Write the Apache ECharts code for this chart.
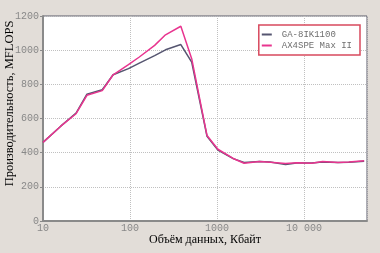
<!DOCTYPE html>
<html><head><meta charset="utf-8">
<script src="https://cdn.jsdelivr.net/npm/echarts@6/dist/echarts.min.js"></script>
<style>html,body{margin:0;padding:0;background:#e2ddd8;}#c{width:380px;height:253px;}</style>
</head><body><div id="c"></div>
<script>
const sizesKB = [10,16,24,32,48,64,96,128,192,256,384,512,768,1024,1536,2048,3072,4096,6144,8192,12288,16384,24576,32768,49152];
const gaValues = [460,555,632,742,768,856,892,924,968,1002,1033,930,496,415,365,342,348,346,330,340,340,346,342,344,350];
const axValues = [460,555,628,736,763,856,915,960,1028,1090,1140,950,500,420,366,338,348,344,336,341,338,348,342,346,353];
const seriesNames = ['GA-8IK1100','AX4SPE Max II'];
const yTicks = [0,200,400,600,800,1000,1200];
const xTickLabels = {10:'10',100:'100',1000:'1000',10000:'10 000'};

const pair = (xs, ys) => xs.map((x,i)=>[x, ys[i]]);
const chart = echarts.init(document.getElementById('c'), null, {renderer:'canvas'});
chart.setOption({
  backgroundColor:'#e2ddd8',
  animation:false,
  grid:{left:43,right:13,top:16,bottom:32,containLabel:false,outerBoundsMode:'none',
    show:true,backgroundColor:'#ffffff',borderColor:'#5a5a6a',borderWidth:1},
  legend:{
    right:20, top:25, orient:'vertical', itemGap:0,
    padding:[4,8,4,3],
    borderColor:'#d84a5e', borderWidth:1.5, backgroundColor:'#ffffff',
    itemWidth:10, itemHeight:2, icon:'rect',
    textStyle:{fontFamily:'Liberation Mono',fontSize:9,lineHeight:11,color:'#6e6e6e',padding:[0,0,0,5]},
    data:seriesNames
  },
  xAxis:{
    type:'log', logBase:10, min:10, max:53000,
    name:'Объём данных, Кбайт', nameLocation:'middle', nameGap:13, nameMoveOverlap:false,
    nameTextStyle:{fontFamily:'Liberation Serif',fontSize:12,color:'#000'},
    axisLine:{show:true,lineStyle:{color:'#8a8a8a',width:2}},
    axisTick:{show:false},
    axisLabel:{fontFamily:'Liberation Mono',fontSize:10,color:'#888888',margin:2,
      formatter:v=>xTickLabels[Math.round(v)]||''},
    splitLine:{show:true,lineStyle:{color:'#c0c0c0',type:[1,1],width:1}},
    minorTick:{show:false}
  },
  yAxis:{
    type:'value', min:0, max:1200, interval:200,
    name:'Производительность, MFLOPS', nameLocation:'middle', nameGap:27, nameRotate:90, nameMoveOverlap:false,
    nameTextStyle:{fontFamily:'Liberation Serif',fontSize:12.5,color:'#000',padding:[0,0,0,30]},
    axisLine:{show:true,lineStyle:{color:'#8a8a8a',width:2}},
    axisTick:{show:true,length:3,inside:false,lineStyle:{color:'#8a8a8a'}},
    axisLabel:{fontFamily:'Liberation Mono',fontSize:10,color:'#888888',margin:4,
      formatter:v=>yTicks.includes(v)?String(v):''},
    splitLine:{show:true,lineStyle:{color:'#c0c0c0',type:[1,1],width:1}}
  },
  series:[
    {name:seriesNames[0],type:'line',data:pair(sizesKB,gaValues),showSymbol:false,symbol:'none',
     lineStyle:{color:'#555570',width:1.5},itemStyle:{color:'#555570'},z:2},
    {name:seriesNames[1],type:'line',data:pair(sizesKB,axValues),showSymbol:false,symbol:'none',
     lineStyle:{color:'#e8358f',width:1.5},itemStyle:{color:'#e8358f'},z:3}
  ]
});
</script></body></html>
